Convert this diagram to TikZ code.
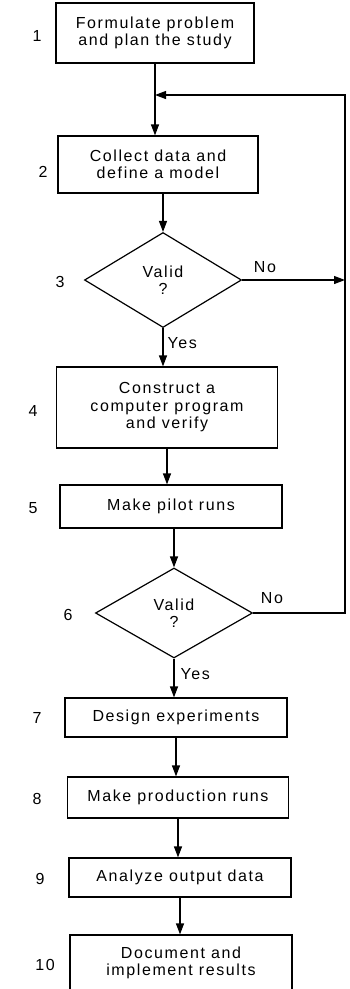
\documentclass[tikz,border=0pt]{standalone}
\usepackage{fontspec}
\setmainfont{Liberation Sans}[LetterSpace=10]
\usetikzlibrary{arrows.meta,positioning,shapes.geometric}
\newcommand{\flowfont}{\fontsize{16}{17.5}\selectfont}
\tikzset{
  flow/box/.style={
    draw=black,
    line width=1.2pt,
    fill=white,
    align=center,
    inner sep=0pt,
    font=\flowfont
  },
  flow/decision/.style={
    diamond,
    draw=black,
    line width=1.2pt,
    fill=white,
    align=center,
    inner sep=0pt,
    font=\flowfont
  },
  flow/arrow/.style={-{Triangle[length=11pt,width=8pt]}, line width=1.2pt},
  flow/line/.style={line width=1.2pt},
  flow/num/.style={font=\flowfont, inner sep=0pt},
  flow/tag/.style={font=\flowfont, inner sep=0pt}
}

\begin{document}
\begin{tikzpicture}[x=1pt,y=-1pt]
  \useasboundingbox (0,0) rectangle (350,989);
  \clip (0,0) rectangle (350,989);
  % steps of the study
  \node[flow/box,minimum width=198pt,minimum height=60pt] (n1) at (155,33) {Formulate problem\\and plan the study};
  \node[flow/box,minimum width=200pt,minimum height=57pt] (n2) at (158,164.5) {Collect data and\\define a model};
  \node[flow/decision,minimum width=157pt,minimum height=95pt] (d3) at (163,280) {Valid\\?};
  \node[flow/box,minimum width=221pt,minimum height=81pt] (n4) at (167,407.5) {Construct a\\computer program\\and verify};
  \node[flow/box,minimum width=222pt,minimum height=43pt] (n5) at (171,506.5) {Make pilot runs};
  \node[flow/decision,minimum width=157pt,minimum height=90pt] (d6) at (174,613) {Valid\\?};
  \node[flow/box,minimum width=222pt,minimum height=39pt] (n7) at (176,717.5) {Design experiments};
  \node[flow/box,minimum width=221pt,minimum height=41pt] (n8) at (178,797.5) {Make production runs};
  \node[flow/box,minimum width=222pt,minimum height=39pt] (n9) at (180,877.5) {Analyze output data};
  \node[flow/box,minimum width=222pt,minimum height=56pt] (n10) at (181,963) {Document and\\implement results};

  % step numbers
  \node[flow/num] (num1) at (37,36) {1};
  \node[flow/num] (num2) at (43,172) {2};
  \node[flow/num] (num3) at (60,282) {3};
  \node[flow/num] (num4) at (33,411) {4};
  \node[flow/num] (num5) at (33,508) {5};
  \node[flow/num] (num6) at (68,615) {6};
  \node[flow/num] (num7) at (37,718) {7};
  \node[flow/num] (num8) at (37,799) {8};
  \node[flow/num] (num9) at (40,879) {9};
  \node[flow/num] (num10) at (45,965) {10};

  % feedback corner
  \coordinate (fb) at (345,95);
  \coordinate (join) at (n1.south |- fb);

  % main flow
  \draw[flow/arrow] (n1.south) -- (n1.south |- n2.north);
  \draw[flow/arrow] (d3.north |- n2.south) -- (d3.north);
  \draw[flow/arrow] (d3.south) -- node[flow/tag,right=4pt,pos=0.4] (yes3) {Yes} (d3.south |- n4.north);
  \draw[flow/arrow] (n4.south) -- (n4.south |- n5.north);
  \draw[flow/arrow] (d6.north |- n5.south) -- (d6.north);
  \draw[flow/arrow] (d6.south) -- node[flow/tag,right=6pt,pos=0.4] (yes6) {Yes} (d6.south |- n7.north);
  \draw[flow/arrow] (n7.south) -- (n7.south |- n8.north);
  \draw[flow/arrow] (n8.south) -- (n8.south |- n9.north);
  \draw[flow/arrow] (n9.south) -- (n9.south |- n10.north);

  % rejections
  \draw[flow/arrow] (d3.east) -- (d3.east -| fb);
  \draw[flow/arrow] (d6.east) -- (d6.east -| fb) -- (fb) -- (join);
  \node[flow/tag] (no3) at (265,267) {No};
  \node[flow/tag] (no6) at (272,598) {No};
\end{tikzpicture}
\end{document}
